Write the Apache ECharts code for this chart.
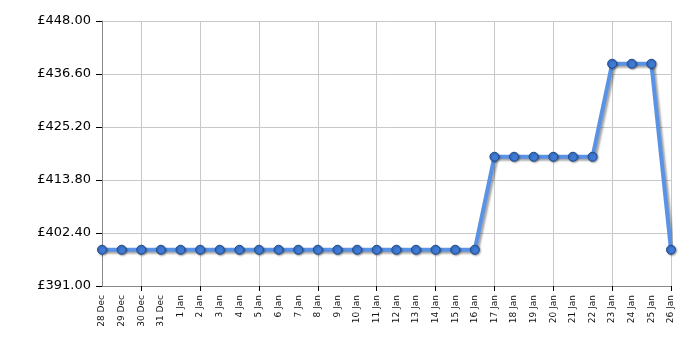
<!DOCTYPE html>
<html>
<head>
<meta charset="utf-8">
<script src="https://cdn.jsdelivr.net/npm/echarts@6/dist/echarts.min.js"></script>
<style>html,body{margin:0;padding:0;background:#fff}#c{width:700px;height:350px}</style>
</head>
<body>
<div id="c"></div>
<script>
var categories = ['28 Dec','29 Dec','30 Dec','31 Dec','1 Jan','2 Jan','3 Jan','4 Jan','5 Jan','6 Jan','7 Jan','8 Jan','9 Jan','10 Jan','11 Jan','12 Jan','13 Jan','14 Jan','15 Jan','16 Jan','17 Jan','18 Jan','19 Jan','20 Jan','21 Jan','22 Jan','23 Jan','24 Jan','25 Jan','26 Jan'];
var prices = [398.8,398.8,398.8,398.8,398.8,398.8,398.8,398.8,398.8,398.8,398.8,398.8,398.8,398.8,398.8,398.8,398.8,398.8,398.8,398.8,418.8,418.8,418.8,418.8,418.8,418.8,438.8,438.8,438.8,398.8];
var yMin = 391, yMax = 448, yStep = 11.4;

var chart = echarts.init(document.getElementById('c'), null, {renderer: 'canvas'});
var every3 = function (i) { return i % 3 === 2; };
chart.setOption({
  animation: false,
  grid: {left: 102, right: 29, top: 21, bottom: 64, containLabel: false},
  xAxis: {
    type: 'category',
    data: categories,
    boundaryGap: false,
    axisLine: {lineStyle: {color: '#888', width: 1}},
    axisTick: {show: true, interval: every3, length: 5, lineStyle: {color: '#000'}},
    axisLabel: {interval: 0, rotate: 90, fontFamily: 'DejaVu Sans', fontSize: 9, color: '#111', margin: 9},
    splitLine: {show: true, interval: every3, lineStyle: {color: '#c8c8c8', width: 1}}
  },
  yAxis: {
    type: 'value',
    min: yMin, max: yMax, interval: yStep,
    axisLine: {show: true, lineStyle: {color: '#888', width: 1}},
    axisTick: {show: true, length: 6, lineStyle: {color: '#000'}},
    axisLabel: {fontFamily: 'DejaVu Sans', fontSize: 13, color: '#000', margin: 11,
      formatter: function (v) { return '£' + v.toFixed(2); }},
    splitLine: {show: true, lineStyle: {color: '#c8c8c8', width: 1}}
  },
  series: [{
    type: 'line',
    data: prices,
    symbol: 'circle',
    symbolSize: 9,
    showAllSymbol: true,
    lineStyle: {color: '#5a93e6', width: 4, shadowColor: 'rgba(0,0,0,0.35)', shadowBlur: 2, shadowOffsetX: 2, shadowOffsetY: 2},
    itemStyle: {color: '#3f7bd6', borderColor: '#1f4a8c', borderWidth: 1, shadowColor: 'rgba(0,0,0,0.35)', shadowBlur: 2, shadowOffsetX: 1, shadowOffsetY: 1}
  }]
});
</script>
</body>
</html>
